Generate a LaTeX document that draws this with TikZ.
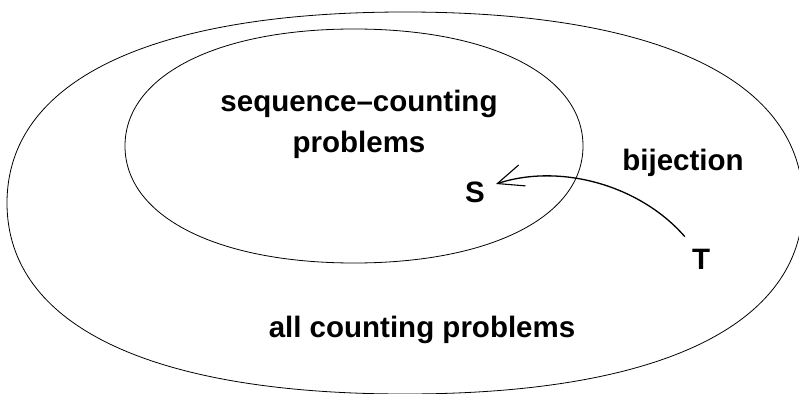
\documentclass[tikz,border=0pt]{standalone}
\usepackage{fontspec}
\setmainfont{Liberation Sans}
\usetikzlibrary{arrows.meta}
\begin{document}
\begin{tikzpicture}[x=1pt,y=-1pt,
  region/.style={draw=black,line width=0.8pt},
  lbl/.style={font=\fontsize{29.5}{41}\selectfont\bfseries,inner sep=0pt},
  pt/.style={font=\fontsize{29.5}{36}\selectfont\bfseries,inner sep=6pt},
  bij/.style={line width=1.3pt,-{Straight Barb[length=26pt,width=22pt,line width=1.1pt]}}]
\useasboundingbox (0,0) rectangle (799,393);
% outer region: all counting problems
\draw[region] (7,203) .. controls (7,80.8) and (150.3,12) .. (405,12)
  .. controls (659.7,12) and (803,80.8) .. (803,203)
  .. controls (803,325.2) and (659.7,394) .. (405,394)
  .. controls (150.3,394) and (7,325.2) .. (7,203) -- cycle;
% inner region: sequence-counting problems
\draw[region] (125,146) .. controls (125,75.8) and (216.6,29) .. (354,29)
  .. controls (491.4,29) and (583,75.8) .. (583,146)
  .. controls (583,216.2) and (491.4,263) .. (354,263)
  .. controls (216.6,263) and (125,216.2) .. (125,146) -- cycle;
\node[lbl,align=center] (seq) at (359,124) {sequence–counting\\problems};
\node[lbl,anchor=base] (bij) at (683,170) {bijection};
\node[lbl,anchor=base] (all) at (422,337) {all counting problems};
\node[pt] (S) at (475,192) {S};
\node[pt] (T) at (701,259) {T};
\draw[bij] ([xshift=-1pt,yshift=6pt]T.north west) .. controls (640,185) and (560,163) .. ([xshift=5pt,yshift=8pt]S.east);
\end{tikzpicture}
\end{document}
